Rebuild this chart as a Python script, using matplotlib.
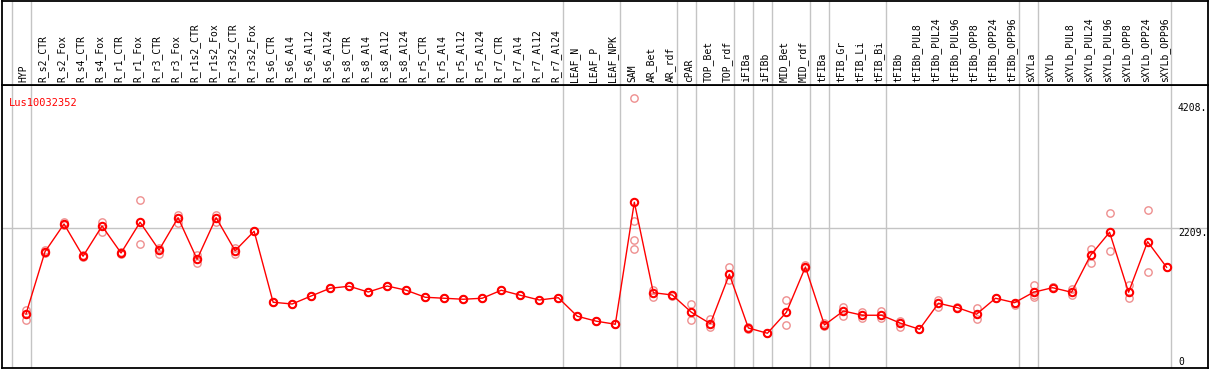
import matplotlib
matplotlib.use("Agg")
import matplotlib.pyplot as plt

gene = "Lus10032352"

samples = ["HYP", "R_s2_CTR", "R_s2_Fox", "R_s4_CTR", "R_s4_Fox", "R_r1_CTR", "R_r1_Fox",
           "R_r3_CTR", "R_r3_Fox", "R_r1s2_CTR", "R_r1s2_Fox", "R_r3s2_CTR", "R_r3s2_Fox",
           "R_s6_CTR", "R_s6_Al4", "R_s6_Al12", "R_s6_Al24", "R_s8_CTR", "R_s8_Al4",
           "R_s8_Al12", "R_s8_Al24", "R_r5_CTR", "R_r5_Al4", "R_r5_Al12", "R_r5_Al24",
           "R_r7_CTR", "R_r7_Al4", "R_r7_Al12", "R_r7_Al24", "LEAF_N", "LEAF_P", "LEAF_NPK",
           "SAM", "AR_Bet", "AR_rdf", "cPAR", "TOP_Bet", "TOP_rdf", "iFIBa", "iFIBb",
           "MID_Bet", "MID_rdf", "tFIBa", "tFIB_Gr", "tFIB_Li", "tFIB_Bi", "tFIBb",
           "tFIBb_PUL8", "tFIBb_PUL24", "tFIBb_PUL96", "tFIBb_OPP8", "tFIBb_OPP24",
           "tFIBb_OPP96", "sXYLa", "sXYLb", "sXYLb_PUL8", "sXYLb_PUL24", "sXYLb_PUL96",
           "sXYLb_OPP8", "sXYLb_OPP24", "sXYLb_OPP96"]

means = [838, 1835, 2278, 1762, 2246, 1814, 2306, 1862, 2379, 1714, 2379, 1851, 2162,
         1026, 998, 1126, 1250, 1282, 1190, 1286, 1218, 1106, 1090, 1074, 1090,
         1218, 1138, 1062, 1099, 802, 723, 674,
         2626, 1179, 1142, 866, 683, 1474, 614, 530, 866, 1590,
         662, 886, 818, 818, 691, 594, 1010, 939, 834, 1090, 1019,
         1186, 1259, 1186, 1778, 2146, 1186, 1995, 1586]

replicates = [[910, 742], [1862, 1810], [2310, 2258], [1782, 1750], [2310, 2155],
              [1830, 1798], [2658, 1958], [1899, 1798], [2427, 2290], [1778, 1659],
              [2427, 2306], [1890, 1798], [2162, 2162], [1026, 1026], [998, 998],
              [1126, 1126], [1250, 1250], [1282, 1282], [1190, 1190], [1286, 1286],
              [1218, 1218], [1106, 1106], [1090, 1090], [1074, 1074], [1090, 1090],
              [1218, 1218], [1138, 1138], [1062, 1062], [1099, 1099], [802, 802],
              [723, 723], [674, 674], [4290, 2331, 2018, 1874], [1222, 1106],
              [1142, 1131], [994, 742], [763, 635], [1590, 1382], [635, 603],
              [530, 530], [1058, 662], [1622, 1570], [694, 651], [955, 806],
              [866, 779], [886, 779], [731, 635], [594, 594], [1062, 955],
              [930, 955], [930, 754], [1090, 1090], [1019, 982], [1302, 1115, 1142],
              [1266, 1266], [1234, 1142], [1878, 1659], [2450, 1846], [1302, 1090],
              [2502, 1506], [1586, 1586]]

# group boundaries (after these sample indices)
group_ends = [-1, 0, 28, 31, 34, 35, 37, 38, 39, 41, 42, 45, 52, 53, 60]

axis_labels = [4208, 2209, 0]

W, H = 1209, 370
fig = plt.figure(figsize=(W / 100, H / 100), dpi=100)


def rect(x0, y0, x1, y1):
    return [x0 / W, 1 - y1 / H, (x1 - x0) / W, (y1 - y0) / H]


ax = fig.add_axes(rect(1.5, 85, 1207.5, 368))
hx = fig.add_axes(rect(1.5, 0.5, 1207.5, 85))

step = 19.01
x0px = 26.0
xlim = ((1.5 - x0px) / step, (1207.5 - x0px) / step)
for a in (ax, hx):
    a.set_xlim(*xlim)
    a.set_xticks([])
    a.set_yticks([])
    for s in a.spines.values():
        s.set_color("black")
        s.set_linewidth(1.3)
ax.set_ylim(-26, 4502)
hx.set_ylim(0, 1)

grid_c = "#c4c4c4"
for g in group_ends:
    for a in (ax, hx):
        a.axvline(g + 0.24, color=grid_c, lw=1, zorder=0)
ax.axhline(2209, color=grid_c, lw=1, zorder=0)

mono = "DejaVu Sans Mono"
xs = list(range(len(samples)))
for i, lab in enumerate(samples):
    hx.text(i - 0.12, 0.03, lab, rotation=90, ha="center", va="bottom",
            fontsize=7, family=mono, color="black")

# replicates
rx, ry = [], []
for i, reps in enumerate(replicates):
    for v in reps:
        rx.append(i)
        ry.append(v)
ax.plot(rx, ry, "o", mfc="none", mec="#ee8f8f", ms=5.3, mew=1.0, ls="none", zorder=2)

ax.plot(xs, means, "-", color="#ff0000", lw=1, zorder=3)
ax.plot(xs, means, "o", mfc="none", mec="#ff0000", ms=5.3, mew=1.5, ls="none", zorder=4)

xlab = (1178 - x0px) / step
for v in axis_labels:
    yv = v if v > 0 else 145
    ax.text(xlab, yv, f"{v}." if v > 0 else "0", ha="left", va="top",
            fontsize=7, family=mono, color="black")

ax.text((9 - x0px) / step, 4215, gene, ha="left", va="center", fontsize=7.5,
        family=mono, color="#ff0000")

fig.savefig("out.png", dpi=100)
